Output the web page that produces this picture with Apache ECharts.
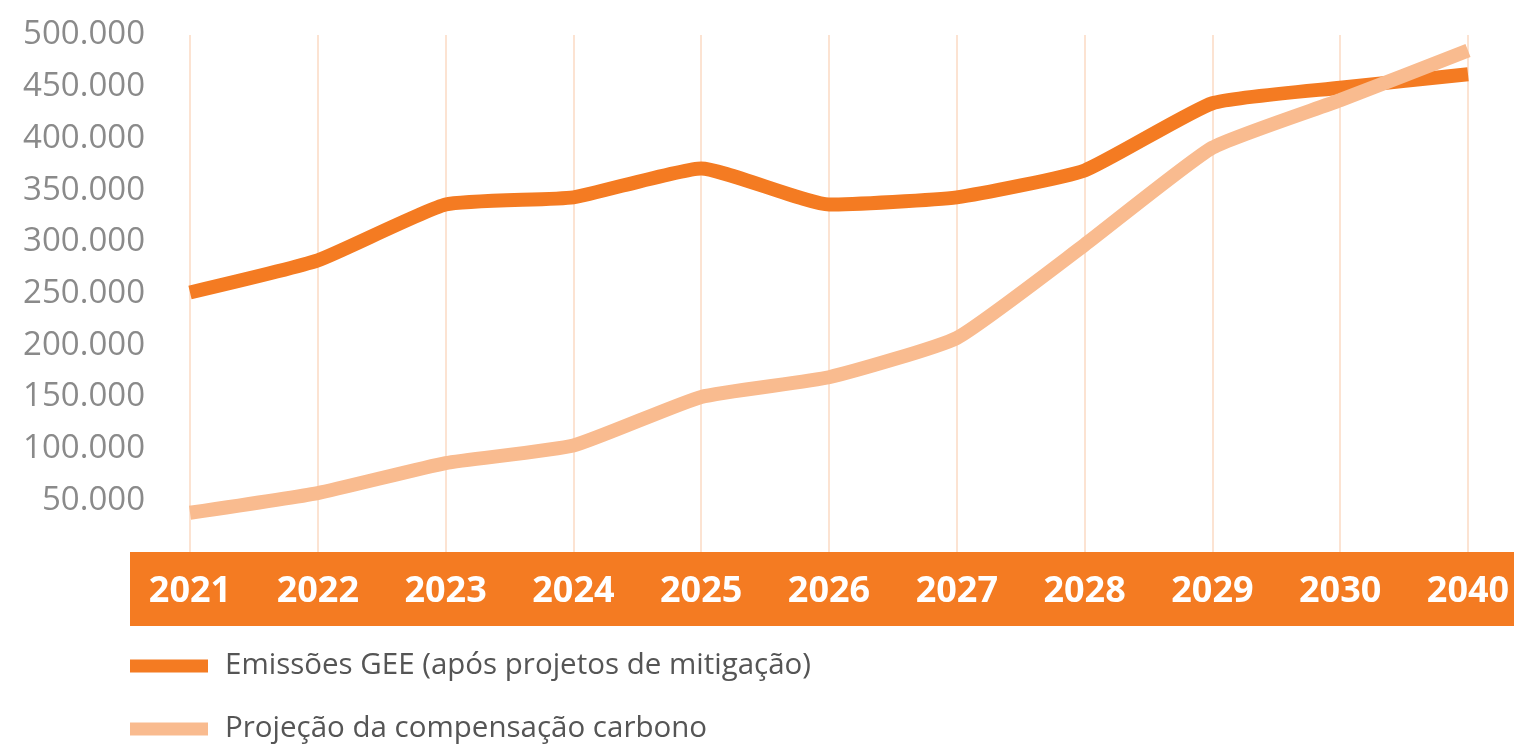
<!DOCTYPE html>
<html>
<head>
<meta charset="utf-8">
<script src="https://cdn.jsdelivr.net/npm/echarts@6/dist/echarts.min.js"></script>
<style>
  html, body { margin: 0; padding: 0; background: #fff; }
  #main { width: 1514px; height: 746px; }
</style>
</head>
<body>
<div id="main"></div>
<script>
// data
const years = ['2021', '2022', '2023', '2024', '2025', '2026', '2027', '2028', '2029', '2030', '2040'];
const emissoes = [251000, 282000, 336000, 343000, 371000, 336000, 343000, 369000, 434000, 449000, 462000];
const compensacao = [38000, 57000, 86000, 103000, 150000, 169000, 207000, 297000, 391000, 437000, 485000];

const nomeEmissoes = 'Emissões GEE (após projetos de mitigação)';
const nomeCompensacao = 'Projeção da compensação carbono';

const myChart = echarts.init(document.getElementById('main'));

const fmt = (v) => (v === 0 ? '' : v.toLocaleString('de-DE'));

// one legend per row, like the reference
const legendBase = {
  left: 130,
  padding: 0,
  itemWidth: 78,
  itemHeight: 13,
  icon: 'rect',
  textStyle: { color: '#555', fontSize: 29.5, padding: [0, 0, 0, 12] },
};

const option = {
  animation: false,
  textStyle: { fontFamily: 'Open Sans' },
  grid: { left: 190, right: 46, top: 35, bottom: 194 },
  graphic: [
    {
      type: 'rect',
      left: 130,
      top: 552,
      z: -10,
      shape: { width: 1384, height: 74 },
      style: { fill: '#F47B22' },
    },
  ],
  legend: [
    { ...legendBase, top: 651, data: [nomeEmissoes] },
    { ...legendBase, top: 714, data: [nomeCompensacao] },
  ],
  xAxis: {
    type: 'category',
    data: years,
    boundaryGap: false,
    axisLine: { show: false },
    axisTick: { show: false },
    axisLabel: { color: '#fff', fontSize: 36, fontWeight: 'bold', margin: 22 },
    splitLine: { show: true, lineStyle: { color: '#FCE3D2', width: 2 } },
  },
  yAxis: {
    type: 'value',
    min: 0,
    max: 500000,
    interval: 50000,
    axisLine: { show: false },
    axisTick: { show: false },
    splitLine: { show: false },
    axisLabel: { color: '#8a8a8a', fontSize: 33, margin: 45, formatter: fmt },
  },
  series: [
    {
      name: nomeEmissoes,
      type: 'line',
      data: emissoes,
      smooth: 0.15,
      symbol: 'none',
      color: '#F47B22',
      lineStyle: { width: 14, color: '#F47B22' },
      z: 3,
    },
    {
      name: nomeCompensacao,
      type: 'line',
      data: compensacao,
      smooth: 0.15,
      symbol: 'none',
      color: '#F9BB8F',
      lineStyle: { width: 14, color: '#F9BB8F' },
      z: 4,
    },
  ],
};

myChart.setOption(option);
</script>
</body>
</html>
